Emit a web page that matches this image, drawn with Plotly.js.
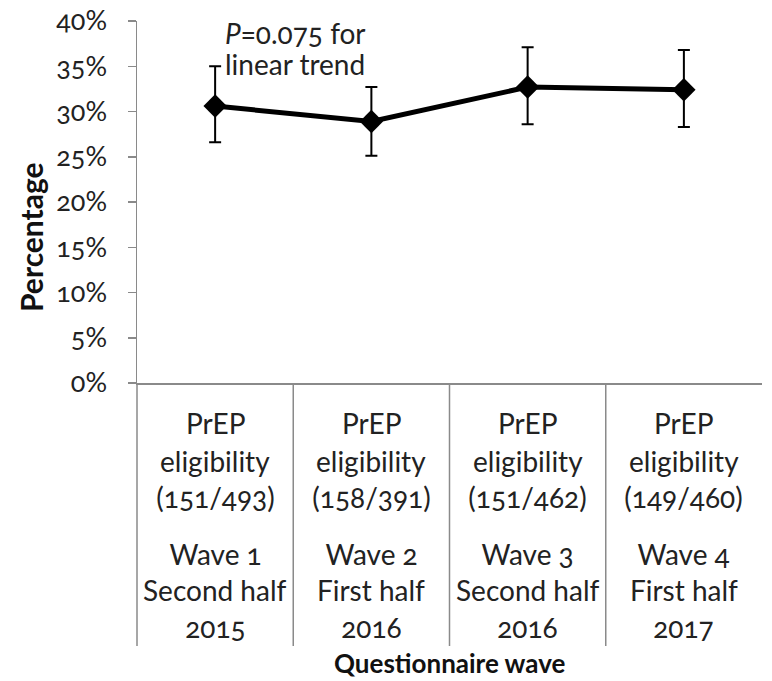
<!DOCTYPE html>
<html>
<head>
<meta charset="utf-8">
<script src="https://cdn.plot.ly/plotly-3.0.1.min.js"></script>
<style>
html,body{margin:0;padding:0;background:#fff;}
#chart{width:772px;height:681px;}
#chart svg text{font-feature-settings:"onum" 1;font-variant-numeric:oldstyle-nums;}
</style>
</head>
<body>
<div id="chart"></div>
<script>
const categories = ['Wave 1', 'Wave 2', 'Wave 3', 'Wave 4'];
const groupLabels = ['PrEP', 'PrEP', 'PrEP', 'PrEP'];
const eligibilityLabels = ['eligibility', 'eligibility', 'eligibility', 'eligibility'];
const countLabels = ['(151/493)', '(158/391)', '(151/462)', '(149/460)'];
const periodLabels = ['Second half', 'First half', 'Second half', 'First half'];
const yearLabels = ['2015', '2016', '2016', '2017'];
const percent = [30.6, 28.9, 32.7, 32.4];
const upperCI = [35.0, 32.7, 37.1, 36.8];
const lowerCI = [26.6, 25.1, 28.6, 28.3];
const yTickVals = [0, 5, 10, 15, 20, 25, 30, 35, 40];
const yTickText = ['0%', '5%', '10%', '15%', '20%', '25%', '30%', '35%', '40%'];
const trendLines = ['<i>P</i>=0.075 for', 'linear trend'];

const FONT = 'Lato, "Open Sans", sans-serif';
const xPos = categories.map((c, i) => i + 1);

const trace = {
  type: 'scatter',
  mode: 'lines+markers',
  x: xPos,
  y: percent,
  line: {color: '#000', width: 5},
  marker: {symbol: 'diamond', size: 18, color: '#000'},
  error_y: {
    type: 'data',
    symmetric: false,
    array: upperCI.map((u, i) => u - percent[i]),
    arrayminus: lowerCI.map((l, i) => percent[i] - l),
    color: '#000',
    thickness: 2,
    width: 6
  },
  hoverinfo: 'skip',
  cliponaxis: false
};

// plot area: top 21, bottom 383 -> height 362
const plotTop = 21, plotBottom = 383, plotH = plotBottom - plotTop;
const pyToPaper = py => (plotBottom - py) / plotH;
const pyToData = py => (plotBottom - py) / plotH * 40;

const lineRows = [groupLabels, eligibilityLabels, countLabels, categories, periodLabels, yearLabels];
const rowPy = [423, 461, 497, 554, 590, 627];

const annotations = [];
lineRows.forEach((row, r) => {
  row.forEach((txt, i) => {
    annotations.push({
      x: xPos[i], xref: 'x', y: pyToPaper(rowPy[r]), yref: 'paper',
      text: txt, showarrow: false, xanchor: 'center', yanchor: 'middle',
      font: {family: FONT, size: 28, color: '#222'}
    });
  });
});

const trendPy = [33, 64];
trendLines.forEach((t, k) => {
  annotations.push({
    x: 1.05, xref: 'x', y: pyToData(trendPy[k]), yref: 'y',
    text: t, showarrow: false,
    xanchor: 'left', yanchor: 'middle', align: 'left',
    font: {family: FONT, size: 28, color: '#222'}
  });
});
annotations.push({
  x: 0.5, xref: 'paper', y: pyToPaper(663), yref: 'paper',
  text: '<b>Questionnaire wave</b>', showarrow: false,
  xanchor: 'center', yanchor: 'middle',
  font: {family: FONT, size: 26, color: '#111'}
});
annotations.push({
  x: (31 - 137) / 625, xref: 'paper', y: pyToPaper(237), yref: 'paper',
  text: '<b>Percentage</b>', showarrow: false, textangle: -90,
  xanchor: 'center', yanchor: 'middle',
  font: {family: FONT, size: 30, color: '#111'}
});

const sepBottom = pyToPaper(646);
const shapes = [0, 0.25, 0.5, 0.75].map(px => ({
  type: 'line', xref: 'paper', yref: 'paper',
  x0: px, x1: px, y0: 0, y1: sepBottom,
  line: {color: '#8a8a8a', width: 1.5}
}));

const layout = {
  width: 772, height: 681,
  margin: {l: 137, r: 10, t: plotTop, b: 681 - plotBottom, pad: 0},
  paper_bgcolor: '#fff', plot_bgcolor: '#fff',
  showlegend: false,
  xaxis: {
    range: [0.5, 4.5], showgrid: false, zeroline: false,
    showticklabels: false, ticks: '',
    showline: true, linecolor: '#8a8a8a', linewidth: 1.5,
    fixedrange: true
  },
  yaxis: {
    range: [0, 40], tickvals: yTickVals, ticktext: yTickText,
    showgrid: false, zeroline: false,
    showline: true, linecolor: '#8a8a8a', linewidth: 1.5,
    ticks: 'outside', ticklen: 8, tickcolor: '#8a8a8a', tickwidth: 1.5,
    ticklabelstandoff: 15,
    tickfont: {family: FONT, size: 27, color: '#222'},
    fixedrange: true
  },
  annotations: annotations,
  shapes: shapes
};

Plotly.newPlot('chart', [trace], layout, {displayModeBar: false, staticPlot: true});
</script>
</body>
</html>
